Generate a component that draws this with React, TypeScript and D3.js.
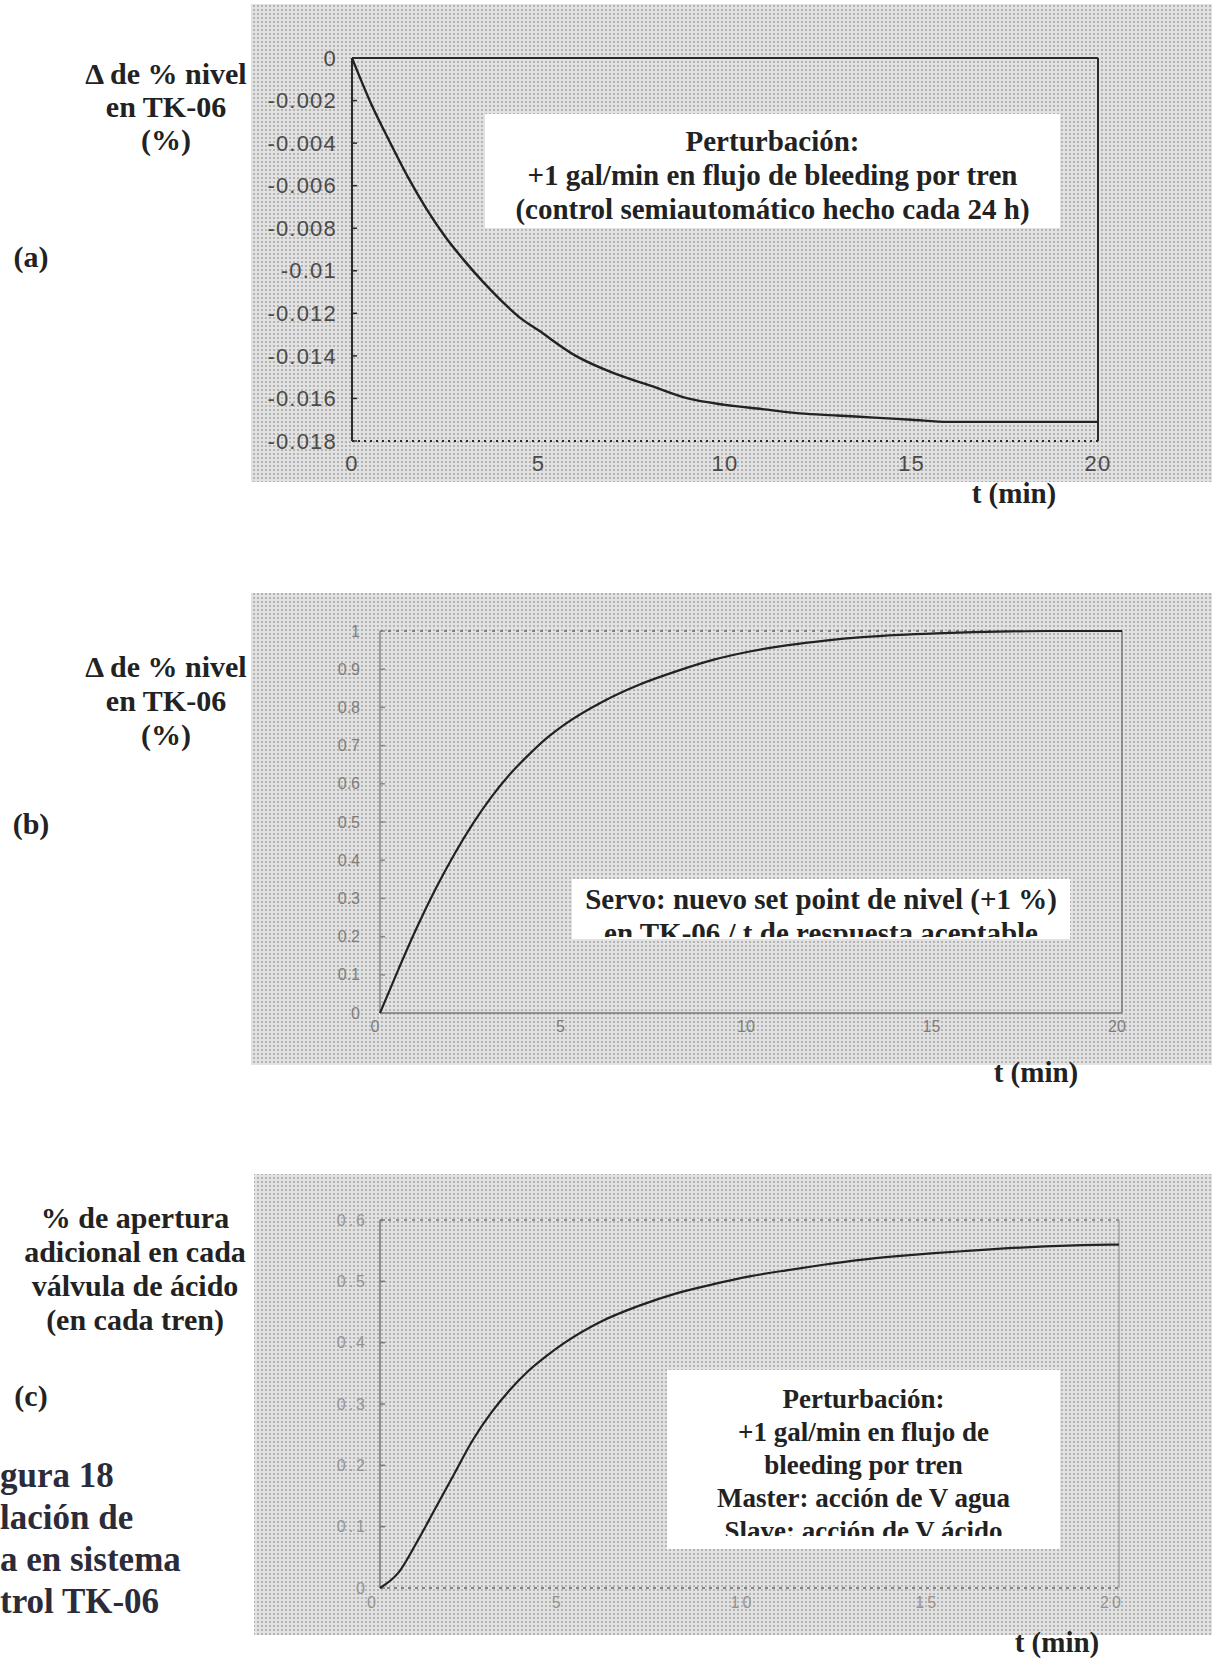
import * as d3 from 'd3'

// time axis shared by the three simulations (min)
const tMin = [0, 0.5, 1, 1.5, 2, 2.5, 3, 3.5, 4, 4.5, 5, 6, 7, 8, 9, 10, 11, 12, 13, 14, 15, 16, 17, 18, 19, 20]

// (a) perturbación: Δ % nivel TK-06
const levelA = [0, -0.0021, -0.0039, -0.0056, -0.0071, -0.0084, -0.0095, -0.0105, -0.0114, -0.0122, -0.0128, -0.014, -0.0148, -0.0154, -0.016, -0.0163, -0.0165, -0.0167, -0.0168, -0.0169, -0.017, -0.0171, -0.0171, -0.0171, -0.0171, -0.0171]
// (b) servo: Δ % nivel TK-06
const levelB = [0, 0.115, 0.225, 0.325, 0.415, 0.495, 0.565, 0.625, 0.675, 0.72, 0.757, 0.815, 0.86, 0.895, 0.925, 0.947, 0.963, 0.975, 0.984, 0.99, 0.994, 0.997, 0.999, 1, 1, 1]
// (c) % apertura adicional válvula de ácido
const openingC = [0, 0.025, 0.075, 0.13, 0.185, 0.24, 0.285, 0.322, 0.353, 0.378, 0.4, 0.435, 0.46, 0.48, 0.495, 0.508, 0.518, 0.527, 0.535, 0.541, 0.546, 0.55, 0.554, 0.557, 0.559, 0.56]

const xTicks = [0, 5, 10, 15, 20]
const yTicksA = [0, -0.002, -0.004, -0.006, -0.008, -0.01, -0.012, -0.014, -0.016, -0.018]
const yTicksB = [1, 0.9, 0.8, 0.7, 0.6, 0.5, 0.4, 0.3, 0.2, 0.1, 0]
const yTicksC = [0.6, 0.5, 0.4, 0.3, 0.2, 0.1, 0]

const noteA = ['Perturbación:', '+1 gal/min en flujo de bleeding por tren', '(control semiautomático hecho cada 24 h)']
const noteB = ['Servo: nuevo set point de nivel (+1 %)', 'en TK-06 / t de respuesta aceptable']
const noteC = ['Perturbación:', '+1 gal/min en flujo de', 'bleeding por tren', 'Master: acción de V agua', 'Slave: acción de V ácido']

const serif = '"Liberation Serif", "Times New Roman", serif'
const sans = '"Liberation Sans", Arial, sans-serif'

function Panel({ id, bg, box, values, yDomain, yTicks, tickStyle, frame, note, yLabel, letter, letterY, tLabel, curveW }) {
  const x = d3.scaleLinear().domain([0, 20]).range([box.left, box.right])
  const y = d3.scaleLinear().domain(yDomain).range([box.bottom, box.top])
  const line = d3.line().x((d, i) => x(tMin[i])).y(d => y(d)).curve(d3.curveMonotoneX)
  const clipId = `clip-${id}`
  return (
    <g>
      <rect x={bg.x} y={bg.y} width={bg.w} height={bg.h} fill="url(#dots)" />
      {/* frame */}
      <line x1={box.left} x2={box.right} y1={box.top} y2={box.top} stroke={frame.top.c} strokeWidth={frame.top.w} strokeDasharray={frame.top.dash} />
      <line x1={box.left} x2={box.right} y1={box.bottom} y2={box.bottom} stroke={frame.bottom.c} strokeWidth={frame.bottom.w} strokeDasharray={frame.bottom.dash} />
      <line x1={box.right} x2={box.right} y1={box.top} y2={box.bottom} stroke={frame.right.c} strokeWidth={frame.right.w} />
      <line x1={box.left} x2={box.left} y1={box.top} y2={box.bottom} stroke={frame.left.c} strokeWidth={frame.left.w} />
      {yTicks.map(v => (
        <g key={v}>
          <line x1={box.left} x2={box.left + 5} y1={y(v)} y2={y(v)} stroke={frame.left.c} strokeWidth={1.5} />
          <text x={box.left - tickStyle.gap} y={y(v)} dy="0.35em" textAnchor="end" fontFamily={sans} fontSize={tickStyle.size} fill={tickStyle.color} letterSpacing={tickStyle.ls}>{String(v)}</text>
        </g>
      ))}
      {xTicks.map(v => (
        <text key={v} x={x(v) + tickStyle.dx} y={box.bottom + tickStyle.dy} dy="0.35em" textAnchor="middle" fontFamily={sans} fontSize={tickStyle.size} fill={tickStyle.color} letterSpacing={tickStyle.ls}>{v}</text>
      ))}
      <path d={line(values)} fill="none" stroke="#222" strokeWidth={curveW} />
      {/* annotation: the text box cuts its last line */}
      <clipPath id={clipId}>
        <rect x={note.x} y={note.y} width={note.w} height={note.clipH} />
      </clipPath>
      <rect x={note.x} y={note.y} width={note.w} height={note.h} fill="#fff" />
      <g clipPath={`url(#${clipId})`}>
        {note.lines.map((s, i) => (
          <text key={i} x={note.x + note.w / 2} y={note.firstBase + i * note.step} textAnchor="middle" fontFamily={serif} fontWeight="bold" fontSize={note.size} fill="#222">{s}</text>
        ))}
      </g>
      {yLabel.lines.map((s, i) => (
        <text key={i} x={yLabel.x} y={yLabel.y + i * yLabel.step} textAnchor="middle" fontFamily={serif} fontWeight="bold" fontSize={yLabel.size} fill="#222">{s}</text>
      ))}
      <text x={31} y={letterY} textAnchor="middle" fontFamily={serif} fontWeight="bold" fontSize={30} fill="#222">{letter}</text>
      <text x={tLabel.x} y={tLabel.y} textAnchor="middle" fontFamily={serif} fontWeight="bold" fontSize={29} fill="#222">t (min)</text>
    </g>
  )
}

export default function App() {
  const dark = { c: '#2a2a2a', w: 2 }
  return (
    <svg width={1212} height={1661} style={{ position: 'absolute', left: 0, top: 0, background: '#fff' }}>
      <defs>
        <pattern id="dots" width="4" height="4" patternUnits="userSpaceOnUse">
          <rect width="4" height="4" fill="#e2e2e2" />
          <circle cx="2" cy="2" r="1.1" fill="#a9a9a9" />
        </pattern>
      </defs>

      <Panel
        id="a"
        bg={{ x: 251, y: 4, w: 961, h: 478 }}
        box={{ left: 352, right: 1098, top: 58, bottom: 441 }}
        values={levelA}
        yDomain={[-0.018, 0]}
        yTicks={yTicksA}
        tickStyle={{ size: 22, color: '#4a4a4a', gap: 15, dx: 0, dy: 22, ls: 1.2 }}
        frame={{ top: dark, right: dark, left: dark, bottom: { c: '#2a2a2a', w: 2.2, dash: '2,4' } }}
        note={{ x: 485, y: 114, w: 575, h: 114, clipH: 114, lines: noteA, firstBase: 151, step: 34, size: 29 }}
        yLabel={{ x: 166, y: 84, step: 33, size: 30, lines: ['Δ de % nivel', 'en TK-06', '(%)'] }}
        letter="(a)"
        letterY={267}
        tLabel={{ x: 1014, y: 503 }}
        curveW={2.4}
      />

      <Panel
        id="b"
        bg={{ x: 251, y: 593, w: 961, h: 472 }}
        box={{ left: 380, right: 1122, top: 631, bottom: 1013 }}
        values={levelB}
        yDomain={[0, 1]}
        yTicks={yTicksB}
        tickStyle={{ size: 16, color: '#7e7e7e', gap: 20, dx: -5, dy: 13, ls: 0 }}
        frame={{ top: { c: '#666', w: 1.6, dash: '3,5' }, right: { c: '#777', w: 1.5 }, left: { c: '#888', w: 1.5 }, bottom: { c: '#777', w: 1.5 } }}
        note={{ x: 572, y: 879, w: 498, h: 60, clipH: 58, lines: noteB, firstBase: 909, step: 34, size: 29 }}
        yLabel={{ x: 166, y: 677, step: 34, size: 30, lines: ['Δ de % nivel', 'en TK-06', '(%)'] }}
        letter="(b)"
        letterY={834}
        tLabel={{ x: 1036, y: 1082 }}
        curveW={2.2}
      />

      <Panel
        id="c"
        bg={{ x: 254, y: 1174, w: 958, h: 461 }}
        box={{ left: 380, right: 1119, top: 1220, bottom: 1588 }}
        values={openingC}
        yDomain={[0, 0.6]}
        yTicks={yTicksC}
        tickStyle={{ size: 16, color: '#959595', gap: 12, dx: -7, dy: 14, ls: 3 }}
        frame={{ top: { c: '#777', w: 1.6, dash: '3,5' }, right: { c: '#999', w: 1.2 }, left: { c: '#777', w: 1.5 }, bottom: { c: '#666', w: 1.6, dash: '3,4' } }}
        note={{ x: 667, y: 1370, w: 393, h: 179, clipH: 166, lines: noteC, firstBase: 1408, step: 33, size: 27 }}
        yLabel={{ x: 135, y: 1228, step: 34, size: 30, lines: ['% de apertura', 'adicional en cada', 'válvula de ácido', '(en cada tren)'] }}
        letter="(c)"
        letterY={1406}
        tLabel={{ x: 1057, y: 1652 }}
        curveW={2.2}
      />

      {/* caption, cut at the page edge */}
      {['gura 18', 'lación de', 'a en sistema', 'trol TK-06'].map((s, i) => (
        <text key={s} x={0} y={1487 + i * 42} fontFamily={serif} fontWeight="bold" fontSize={35} fill="#2b2b3a">{s}</text>
      ))}
    </svg>
  )
}
